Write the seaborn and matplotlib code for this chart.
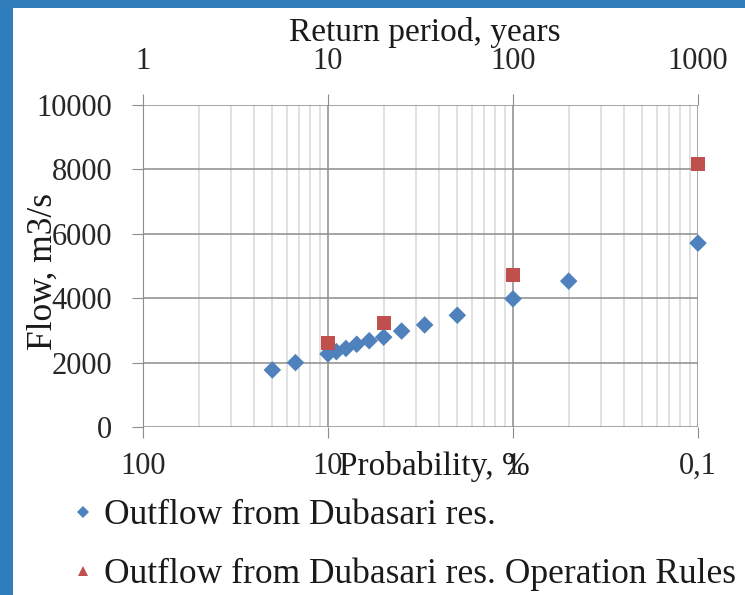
import seaborn as sns
import matplotlib.pyplot as plt
import matplotlib.patches as mpatches
from matplotlib.lines import Line2D
from matplotlib.ticker import FixedLocator, LogLocator, NullFormatter
import pandas as pd

# --- Data ---
return_period = [5, 6.67, 10, 11.1, 12.5, 14.3, 16.7, 20, 25, 33.3, 50, 100, 200, 1000]
outflow = [1770, 2000, 2270, 2340, 2440, 2570, 2680, 2790, 2980, 3170, 3470, 3980, 4530, 5710]

rules_period = [10, 20, 100, 1000]
rules_outflow = [2620, 3240, 4720, 8170]

top_ticks = [1, 10, 100, 1000]
top_labels = ['1', '10', '100', '1000']
bottom_labels = ['100', '10', '1', '0,1']
y_ticks = [0, 2000, 4000, 6000, 8000, 10000]

df_out = pd.DataFrame({'period': return_period, 'flow': outflow})
df_rules = pd.DataFrame({'period': rules_period, 'flow': rules_outflow})

blue = '#4F81BD'
red = '#C0504D'

sns.set_style("white")
plt.rcParams['font.family'] = ['Liberation Serif', 'DejaVu Serif']
plt.rcParams['text.color'] = '#1a1a1a'

fig = plt.figure(figsize=(7.45, 5.95), dpi=100)
fig.patch.set_facecolor('#2F7DBA')
fig.patches.append(mpatches.Rectangle((13 / 745, 0), 1, 1 - 8 / 595, transform=fig.transFigure,
                                      facecolor='white', edgecolor='none', zorder=-10))

ax = fig.add_axes([143 / 745, 1 - 427 / 595, 555 / 745, 322 / 595])
ax.set_facecolor('none')

sns.scatterplot(data=df_out, x='period', y='flow', marker='D', s=80, color=blue,
                edgecolor='none', ax=ax, legend=False, zorder=3, clip_on=False)
sns.scatterplot(data=df_rules, x='period', y='flow', marker='s', s=100, color=red,
                edgecolor='none', ax=ax, legend=False, zorder=4, clip_on=False)

ax.set_xscale('log')
ax.set_xlim(1, 1000)
ax.set_ylim(0, 10000)
ax.xaxis.set_major_locator(FixedLocator(top_ticks))
ax.xaxis.set_minor_locator(LogLocator(base=10, subs=range(2, 10)))
ax.xaxis.set_minor_formatter(NullFormatter())
ax.set_xticklabels(bottom_labels)
ax.set_yticks(y_ticks)
ax.set_yticklabels([str(v) for v in y_ticks])

ax.grid(True, which='major', axis='both', color='#8C8C8C', linewidth=1.1)
ax.grid(True, which='minor', axis='x', color='#D9D9D9', linewidth=1.1)
ax.set_axisbelow(True)

for side in ['top', 'right', 'bottom']:
    ax.spines[side].set_visible(False)
ax.spines['left'].set_color('#8C8C8C')

ax.tick_params(axis='x', which='major', direction='out', length=8, color='#8C8C8C',
               labelsize=22, pad=10, bottom=True)
ax.tick_params(axis='x', which='minor', length=0)
ax.tick_params(axis='y', direction='out', length=8, color='#8C8C8C', labelsize=22, pad=14, left=True)
ax.set_xlabel('')
ax.set_ylabel('')

# top axis: return period
top = ax.secondary_xaxis('top')
top.set_xticks(top_ticks)
top.set_xticklabels(top_labels)
top.xaxis.set_minor_locator(FixedLocator([]))
top.spines['top'].set_visible(False)
top.tick_params(axis='x', direction='out', length=8, color='#8C8C8C', labelsize=22, pad=13)

fig.text(425 / 745, 1 - 32 / 595, 'Return period, years', ha='center', va='center', fontsize=24)
fig.text(434 / 745, 1 - 467 / 595, 'Probability, %', ha='center', va='center', fontsize=24)
fig.text(43 / 745, 1 - 272 / 595, 'Flow, m3/s', ha='center', va='center', rotation=90, fontsize=25.5)

handles = [
    Line2D([], [], marker='D', linestyle='none', color=blue, markersize=6, markeredgewidth=0),
    Line2D([], [], marker='^', linestyle='none', color=red, markersize=7, markeredgewidth=0),
]
labels = ['Outflow from Dubasari res.', 'Outflow from Dubasari res. Operation Rules']
fig.legend(handles, labels, loc='upper left', bbox_to_anchor=(72 / 745, 1 - 499 / 595),
           frameon=False, fontsize=25.5, handlelength=0.6, handletextpad=0.3,
           labelspacing=0.72, borderpad=0, borderaxespad=0)

plt.savefig('out.png', dpi=100)
